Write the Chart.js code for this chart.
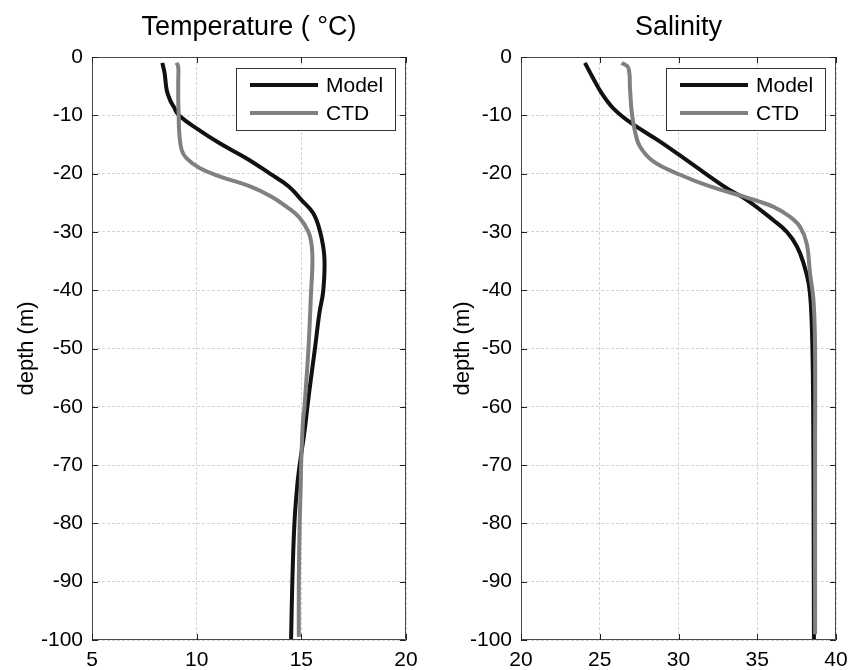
<!DOCTYPE html>
<html>
<head>
<meta charset="utf-8">
<script src="https://cdn.jsdelivr.net/npm/chart.js@4.4.0/dist/chart.umd.min.js"></script>
<style>
  body { margin: 0; background: #fff; }
  #wrap { position: relative; width: 862px; height: 670px; }
  canvas { position: absolute; top: 0; }
  #tempChart { left: 0; }
  #salChart { left: 431px; }
</style>
</head>
<body>
<div id="wrap">
  <canvas id="tempChart" width="431" height="670"></canvas>
  <canvas id="salChart" width="431" height="670"></canvas>
</div>
<script>
// Data (depth in m, negative down)
const depthTicks = [0, -10, -20, -30, -40, -50, -60, -70, -80, -90, -100];
const seriesNames = ['Model', 'CTD'];

const tempModelDepth = [-1, -2.8, -5.7, -7.4, -8.5, -10, -12.5, -14.8, -17.4, -20, -22.2, -24.5, -26.8, -30, -34.3, -40, -44, -50, -55.4, -60, -64, -70, -73.7, -80, -90, -100];
const tempModel      = [8.36, 8.47, 8.57, 8.73, 8.9, 9.15, 10.1, 11.1, 12.39, 13.5, 14.4, 15.0, 15.57, 15.9, 16.1, 16.05, 15.86, 15.65, 15.45, 15.29, 15.16, 14.92, 14.8, 14.67, 14.57, 14.51];
const tempCtdDepth   = [-1, -1.7, -4, -7.4, -10, -13.1, -15.9, -17.4, -19.1, -20.5, -22.2, -24, -25.7, -27.5, -30, -32.5, -35.4, -40, -50, -60, -62.3, -70, -73.7, -80, -90, -99.5];
const tempCtd        = [9.04, 9.12, 9.12, 9.12, 9.14, 9.17, 9.28, 9.52, 10.16, 11.12, 12.55, 13.6, 14.3, 14.9, 15.34, 15.5, 15.53, 15.47, 15.34, 15.15, 15.08, 14.99, 14.97, 14.92, 14.88, 14.88];

const salModelDepth = [-1, -3.7, -6.2, -8.8, -11.4, -14.5, -18.5, -22.5, -24.5, -28, -30, -32.5, -35.4, -38.8, -42.8, -49.7, -60, -80, -100];
const salModel      = [24.06, 24.59, 25.12, 25.86, 27.03, 28.83, 30.94, 33.06, 34.33, 36.03, 36.88, 37.52, 37.94, 38.26, 38.41, 38.5, 38.55, 38.58, 38.6];
const salCtdDepth   = [-1, -1.8, -5.4, -9.4, -12.8, -15.4, -17.9, -20.2, -22.2, -24, -25.7, -27.4, -29.1, -32, -37.1, -41.7, -49.7, -70, -99];
const salCtd        = [26.39, 26.81, 26.92, 27.03, 27.24, 27.56, 28.4, 30.1, 32.0, 34.2, 36.03, 37.08, 37.71, 38.14, 38.35, 38.57, 38.67, 38.67, 38.67];

const FONT = "'Liberation Sans', Arial, sans-serif";

function toPoints(xs, ys) {
  return xs.map((v, i) => ({ x: v, y: ys[i] }));
}

// box round the axes with inward ticks, like the original figure
const framePlugin = {
  id: 'frame',
  afterDraw(chart) {
    const { ctx, chartArea: a, scales } = chart;
    ctx.save();
    ctx.strokeStyle = '#4a4a4a';
    ctx.lineWidth = 1;
    ctx.beginPath();
    ctx.rect(Math.round(a.left) + 0.5, Math.round(a.top) + 0.5, Math.round(a.width) - 1, Math.round(a.height) - 1);
    ctx.stroke();
    ctx.strokeStyle = '#222';
    ctx.beginPath();
    scales.x.ticks.forEach(t => {
      const px = Math.round(scales.x.getPixelForValue(t.value)) + 0.5;
      ctx.moveTo(px, a.bottom); ctx.lineTo(px, a.bottom - 6);
      ctx.moveTo(px, a.top); ctx.lineTo(px, a.top + 6);
    });
    scales.y.ticks.forEach(t => {
      const py = Math.round(scales.y.getPixelForValue(t.value)) + 0.5;
      ctx.moveTo(a.left, py); ctx.lineTo(a.left + 6, py);
      ctx.moveTo(a.right, py); ctx.lineTo(a.right - 6, py);
    });
    ctx.stroke();
    ctx.restore();
  }
};

// legend box in the upper right corner of the axes
const boxLegend = {
  id: 'boxLegend',
  afterDatasetsDraw(chart) {
    const { ctx, chartArea: a } = chart;
    const w = 159, h = 62;
    const left = Math.round(a.right - 11 - w), top = Math.round(a.top + 11);
    ctx.save();
    ctx.fillStyle = '#fff';
    ctx.fillRect(left, top, w, h);
    ctx.strokeStyle = '#333';
    ctx.lineWidth = 1;
    ctx.strokeRect(left + 0.5, top + 0.5, w, h);
    const sets = chart.data.datasets.slice().sort((p, q) => p.legendIndex - q.legendIndex);
    sets.forEach((ds, i) => {
      const y = top + 17 + i * 28;
      ctx.strokeStyle = ds.borderColor;
      ctx.lineWidth = 4;
      ctx.beginPath();
      ctx.moveTo(left + 14, y);
      ctx.lineTo(left + 82, y);
      ctx.stroke();
      ctx.fillStyle = '#000';
      ctx.font = '21px ' + FONT;
      ctx.textBaseline = 'middle';
      ctx.fillText(ds.label, left + 90, y + 1);
    });
    ctx.restore();
  }
};

function makeChart(id, title, xMin, xMax, xStep, modelPts, ctdPts, yWidth, rightPad, yTitlePad) {
  return new Chart(document.getElementById(id), {
    type: 'line',
    data: {
      datasets: [
        { label: seriesNames[0], legendIndex: 0, order: 1, data: modelPts, borderColor: '#111111', borderWidth: 4, pointRadius: 0, tension: 0.4, fill: false },
        { label: seriesNames[1], legendIndex: 1, order: 0, data: ctdPts, borderColor: '#808080', borderWidth: 4, pointRadius: 0, tension: 0.4, fill: false }
      ]
    },
    options: {
      responsive: false,
      animation: false,
      indexAxis: 'y',
      layout: { padding: { left: 0, right: rightPad, top: 0, bottom: 0 } },
      plugins: {
        legend: { display: false },
        tooltip: { enabled: false },
        title: {
          display: true,
          text: title,
          fullSize: false,
          color: '#000',
          font: { family: FONT, size: 27, weight: 'normal' },
          padding: { top: 11, bottom: 13.6 }
        }
      },
      scales: {
        x: {
          type: 'linear',
          min: xMin, max: xMax,
          afterFit: s => { s.height = 30; },
          ticks: { stepSize: xStep, autoSkip: false, maxRotation: 0, padding: 8, color: '#000', font: { family: FONT, size: 21 } },
          grid: { color: '#d4d4d4', drawTicks: false },
          border: { display: false, dash: [3, 2] }
        },
        y: {
          type: 'linear',
          min: -100, max: 0,
          afterFit: s => { s.width = yWidth; },
          afterBuildTicks: s => { s.ticks = depthTicks.map(v => ({ value: v })); },
          ticks: { autoSkip: false, padding: 9, color: '#000', font: { family: FONT, size: 21 } },
          grid: { color: '#d4d4d4', drawTicks: false },
          border: { display: false, dash: [3, 2] },
          title: { display: true, text: 'depth (m)', color: '#000', font: { family: FONT, size: 22 }, padding: { top: yTitlePad, bottom: 0 } }
        }
      }
    },
    plugins: [boxLegend, framePlugin]
  });
}

makeChart('tempChart', 'Temperature ( °C)', 5, 20, 5,
  toPoints(tempModel, tempModelDepth), toPoints(tempCtd, tempCtdDepth), 92, 25, 14);
makeChart('salChart', 'Salinity', 20, 40, 5,
  toPoints(salModel, salModelDepth), toPoints(salCtd, salCtdDepth), 90, 26, 19);
</script>
</body>
</html>
